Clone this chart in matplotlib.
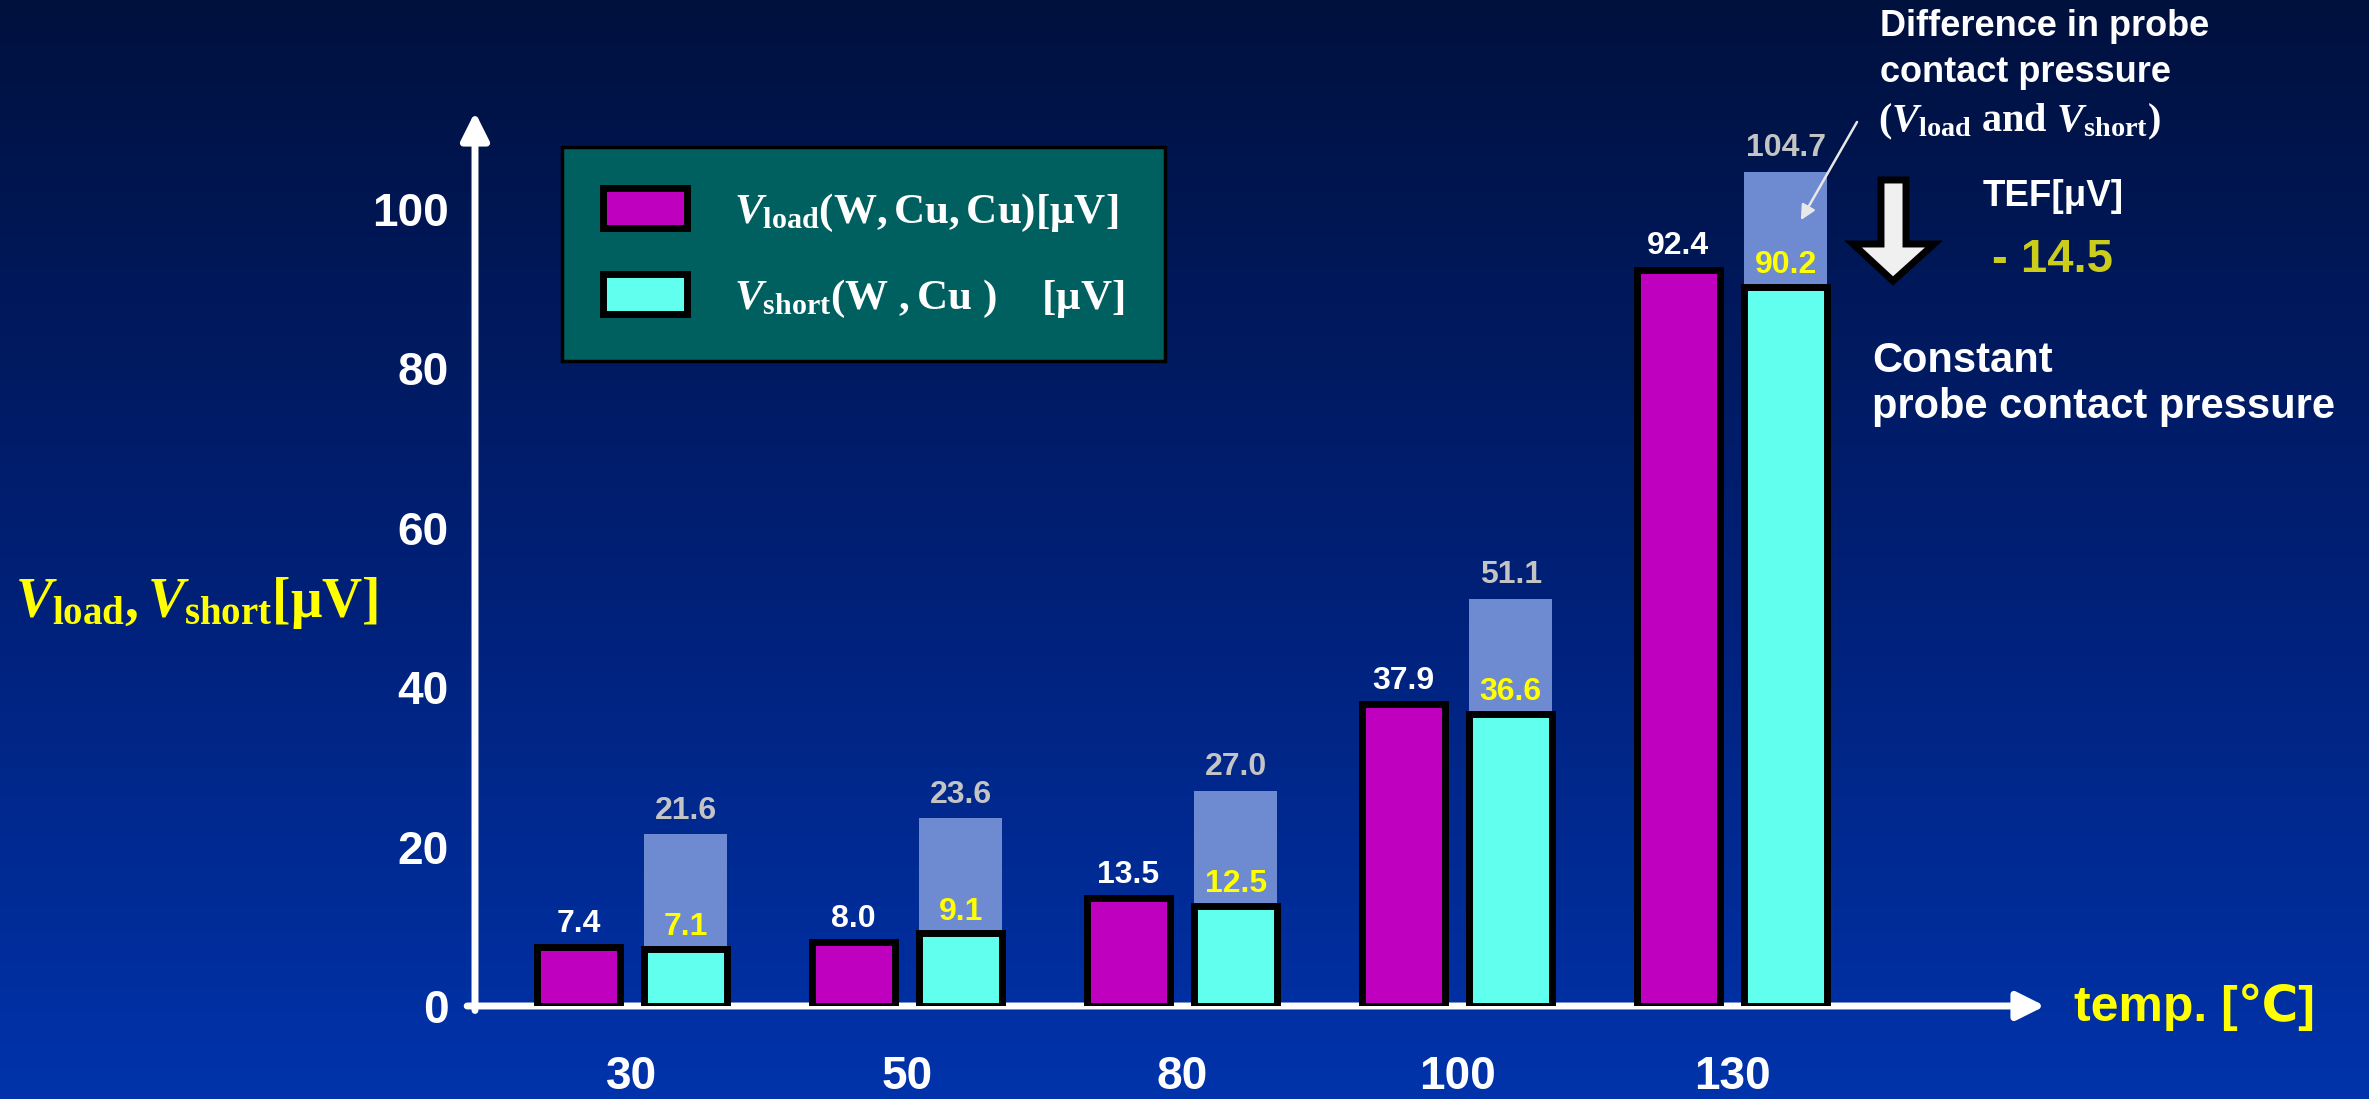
import numpy as np
import matplotlib.pyplot as plt
from matplotlib.patches import Polygon
from matplotlib.colors import LinearSegmentedColormap

# Measured thermal EMF per temperature
temps = ["30", "50", "80", "100", "130"]
v_load = [7.4, 8.0, 13.5, 37.9, 92.4]          # V_load(W, Cu, Cu)
v_short = [7.1, 9.1, 12.5, 36.6, 90.2]         # V_short(W, Cu), constant pressure
v_short_diff = [21.6, 23.6, 27.0, 51.1, 104.7] # V_short with differing contact pressure
tef_change = v_short[-1] - v_short_diff[-1]

plt.rcParams['font.family'] = ['Liberation Sans', 'DejaVu Sans']
plt.rcParams['font.weight'] = 'bold'
plt.rcParams['mathtext.fontset'] = 'custom'
plt.rcParams['mathtext.it'] = 'Liberation Serif:italic:bold'
plt.rcParams['mathtext.rm'] = 'Liberation Serif'
plt.rcParams['mathtext.bf'] = 'Liberation Serif:bold'

W, H = 2369, 1099
fig = plt.figure(figsize=(W / 100, H / 100), dpi=100)

def fpx(x, y):
    # pixel position (from top-left) -> figure fraction
    return x / W, 1 - y / H

# dark-to-bright blue slide background
bg = fig.add_axes([0, 0, 1, 1], zorder=-10)
cmap = LinearSegmentedColormap.from_list("slide", ["#00113E", "#001F74", "#0033AB"])
bg.imshow(np.linspace(0, 1, 256).reshape(-1, 1), aspect="auto", cmap=cmap,
          extent=[0, 1, 0, 1], origin="upper")
bg.set_axis_off()

ax = fig.add_axes([475 / W, (H - 1006) / H, (2045 - 475) / W, (1006 - 112) / H])
ax.patch.set_visible(False)
for s in ax.spines.values():
    s.set_visible(False)

x = np.arange(len(temps))
w = 0.30
off = 0.195

ax.bar(x + off, v_short_diff, w, color="#6E8AD0", zorder=1)
ax.bar(x - off, v_load, w, color="#BF00BF", edgecolor="black", linewidth=5, zorder=3,
       label=r"$V_{\mathrm{load}}\mathrm{(}\mathbf{W,Cu,Cu}\mathrm{)[μ}\mathbf{V}\mathrm{]}$")
ax.bar(x + off, v_short, w, color="#60FFEE", edgecolor="black", linewidth=5, zorder=3,
       label=r"$V_{\mathrm{short}}\mathrm{(}\mathbf{W\ ,Cu\ }\mathrm{)\quad\ [μ}\mathbf{V}\mathrm{]}$")

for xi, v in zip(x, v_load):
    ax.annotate(f"{v:.1f}", (xi - off, v), xytext=(0, 6), textcoords="offset points",
                ha="center", va="bottom", fontsize=23, color="white", zorder=5)
for xi, v in zip(x, v_short):
    ax.annotate(f"{v:.1f}", (xi + off, v), xytext=(0, 5), textcoords="offset points",
                ha="center", va="bottom", fontsize=23, color="#FFFF00", zorder=5)
for xi, v in zip(x, v_short_diff):
    ax.annotate(f"{v:.1f}", (xi + off, v), xytext=(0, 6), textcoords="offset points",
                ha="center", va="bottom", fontsize=23, color="#C4C4C4", zorder=5)

ax.set_xlim(-0.571, 5.138)
ax.set_ylim(0, (1006 - 112) / 7.97)

# arrow-headed axes
arrow_kw = dict(arrowstyle="-|>", color="white", lw=5, mutation_scale=42,
                shrinkA=0, shrinkB=0)
ax.annotate("", xy=(1, 0), xytext=(-0.005, 0), xycoords="axes fraction",
            arrowprops=arrow_kw, zorder=2)
ax.annotate("", xy=(0, 1), xytext=(0, -0.005), xycoords="axes fraction",
            arrowprops=arrow_kw, zorder=2)

ax.set_yticks([0, 20, 40, 60, 80, 100])
ax.set_xticks(x, temps)
ax.tick_params(axis="y", length=0, labelsize=33, labelcolor="white", pad=19)
ax.tick_params(axis="x", length=0, labelsize=33, labelcolor="white", pad=35)

ax.set_ylabel(r"$V_{\mathbf{load}},V_{\mathbf{short}}\mathrm{[μ}\mathbf{V}\mathrm{]}$",
              rotation=0, ha="left", va="center", color="#FFFF00", fontsize=40)
ax.yaxis.set_label_coords(-0.293, 0.451)
ax.set_xlabel("temp. [℃]", ha="left", va="center", color="#FFFF00", fontsize=36,
              fontweight="bold")
ax.xaxis.set_label_coords(1.0185, -0.002)

leg = ax.legend(loc="upper left", bbox_to_anchor=fpx(562, 147), bbox_transform=fig.transFigure,
                borderaxespad=0, fontsize=31, handlelength=1.95, handleheight=1.05,
                labelspacing=0.95, borderpad=0.95, handletextpad=1.1, fancybox=False,
                facecolor="#006060", framealpha=1, edgecolor="black")
leg.get_frame().set_linewidth(2.5)
for t in leg.get_texts():
    t.set_color("white")

# notes on the right
fig.text(*fpx(1880, 27), "Difference in probe", color="white", fontsize=26, va="center")
fig.text(*fpx(1880, 72), "contact pressure", color="white", fontsize=26, va="center")
fig.text(*fpx(1878, 122), r"$\mathrm{(}V_{\mathrm{load}}\ \mathbf{and}\ V_{\mathrm{short}}\mathrm{)}$",
         color="white", fontsize=29, va="center")
fig.text(*fpx(1983, 197), "TEF[μV]", color="white", fontsize=26.5, va="center")
fig.text(*fpx(1992, 260), f"- {abs(tef_change):.1f}", color="#CCCC1A", fontsize=34, va="center")
fig.text(*fpx(1872, 384), "Constant\nprobe contact pressure", color="white", fontsize=30,
         va="center", linespacing=1.2)

# pointer to the pressure difference band
ax.annotate("", xy=(4.25, 98.6), xytext=(1857, H - 122), textcoords="figure pixels",
            arrowprops=dict(arrowstyle="-|>", color="#E8E8E8", lw=1.8, mutation_scale=22,
                            shrinkA=0, shrinkB=0))

# block arrow showing the drop
pts = [(1881, 180), (1906, 180), (1906, 244), (1934, 244), (1893, 281), (1853, 244), (1881, 244)]
fig.patches.append(Polygon([fpx(px, py) for px, py in pts], closed=True, transform=fig.transFigure,
                           facecolor="#F0F0F0", edgecolor="black", linewidth=5, joinstyle="miter"))

fig.savefig("out.png", dpi=100)
